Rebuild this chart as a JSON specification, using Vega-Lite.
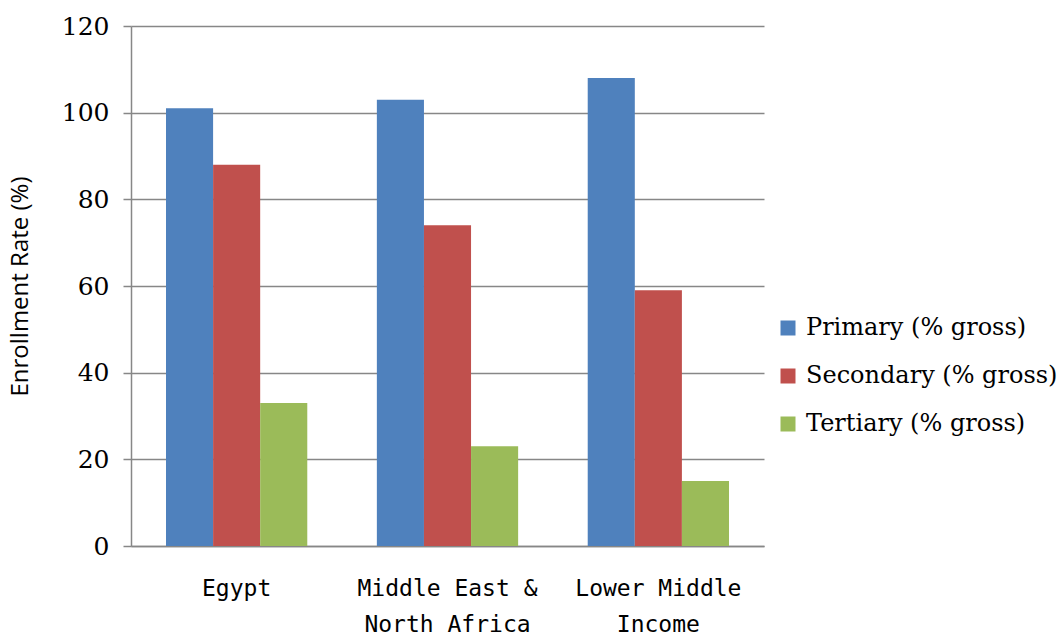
{
  "$schema": "https://vega.github.io/schema/vega-lite/v6.json",
  "autosize": "none",
  "width": 633,
  "height": 520,
  "padding": {"left": 131, "top": 26, "right": 298, "bottom": 91},
  "background": "white",
  "data": {
    "values": [
      {"region": "Egypt", "level": "Primary (% gross)", "rate": 101},
      {"region": "Egypt", "level": "Secondary (% gross)", "rate": 88},
      {"region": "Egypt", "level": "Tertiary (% gross)", "rate": 33},
      {"region": "Middle East & North Africa", "level": "Primary (% gross)", "rate": 103},
      {"region": "Middle East & North Africa", "level": "Secondary (% gross)", "rate": 74},
      {"region": "Middle East & North Africa", "level": "Tertiary (% gross)", "rate": 23},
      {"region": "Lower Middle Income", "level": "Primary (% gross)", "rate": 108},
      {"region": "Lower Middle Income", "level": "Secondary (% gross)", "rate": 59},
      {"region": "Lower Middle Income", "level": "Tertiary (% gross)", "rate": 15}
    ]
  },
  "mark": {"type": "bar"},
  "encoding": {
    "x": {
      "field": "region",
      "type": "nominal",
      "sort": ["Egypt", "Middle East & North Africa", "Lower Middle Income"],
      "scale": {"paddingInner": 0.33, "paddingOuter": 0.166},
      "axis": {
        "title": null,
        "labelAngle": 0,
        "labelExpr": "datum.value == 'Middle East & North Africa' ? ['Middle East &', 'North Africa'] : datum.value == 'Lower Middle Income' ? ['Lower Middle', 'Income'] : datum.value",
        "labelFont": "DejaVu Sans Mono",
        "labelFontSize": 23,
        "labelLineHeight": 36,
        "labelLimit": 400,
        "labelColor": "black",
        "labelPadding": 31,
        "ticks": false,
        "domainColor": "#878787",
        "domainWidth": 1.5
      }
    },
    "xOffset": {
      "field": "level",
      "type": "nominal",
      "scale": {"paddingInner": 0, "paddingOuter": 0}
    },
    "y": {
      "field": "rate",
      "type": "quantitative",
      "scale": {"domain": [0, 120]},
      "axis": {
        "title": "Enrollment Rate (%)",
        "titleFont": "Open Sans",
        "titleFontSize": 24,
        "titleFontWeight": "normal",
        "titleColor": "black",
        "titlePadding": 29,
        "titleLimit": 500,
        "values": [0, 20, 40, 60, 80, 100, 120],
        "labelFont": "DejaVu Serif",
        "labelFontSize": 25,
        "labelColor": "black",
        "labelPadding": 14,
        "tickSize": 8,
        "tickColor": "#878787",
        "tickWidth": 1.5,
        "domainColor": "#878787",
        "domainWidth": 1.5,
        "grid": true,
        "gridColor": "#878787",
        "gridWidth": 1.5
      }
    },
    "color": {
      "field": "level",
      "type": "nominal",
      "scale": {
        "domain": ["Primary (% gross)", "Secondary (% gross)", "Tertiary (% gross)"],
        "range": ["#4F81BD", "#C0504D", "#9BBB59"]
      },
      "legend": {
        "title": null,
        "orient": "none",
        "legendX": 645,
        "legendY": 290,
        "symbolType": "square",
        "symbolSize": 225,
        "symbolStrokeWidth": 0,
        "labelFont": "DejaVu Serif",
        "labelFontSize": 24,
        "labelColor": "black",
        "labelOffset": 6,
        "rowPadding": 24,
        "labelLimit": 400
      }
    }
  },
  "config": {
    "view": {"stroke": null}
  }
}
